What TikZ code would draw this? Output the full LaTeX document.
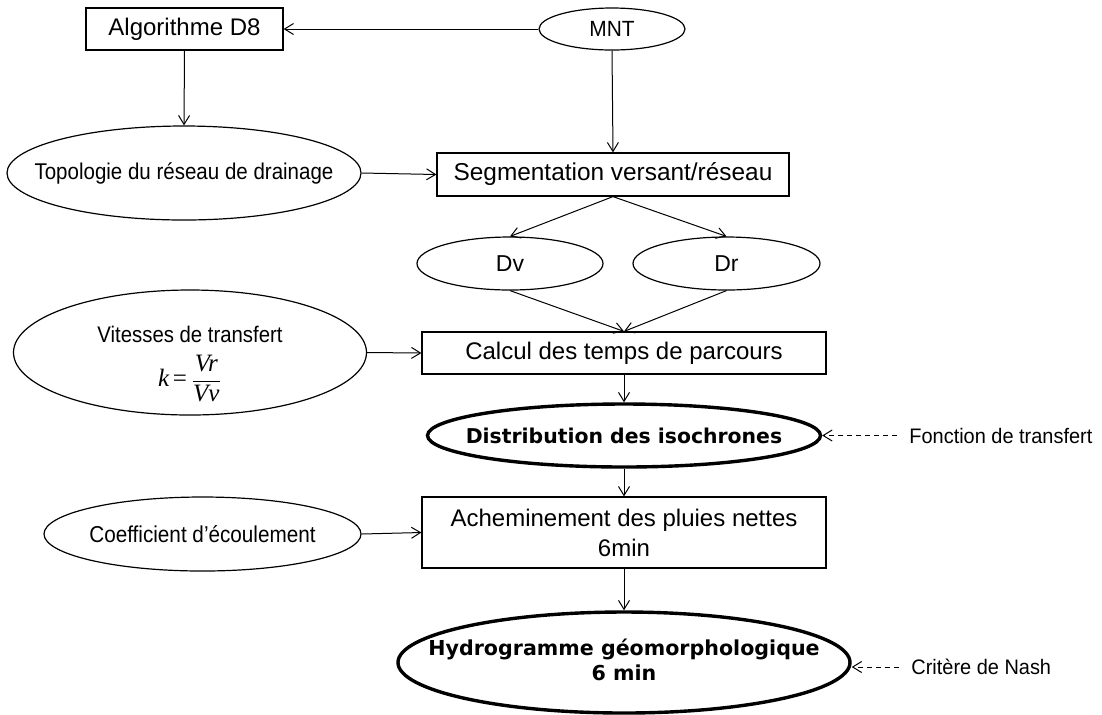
\documentclass[tikz,border=0pt]{standalone}
\usepackage{fontspec}
\setmainfont{Liberation Sans}
\newfontfamily\nar{Liberation Sans}[FakeStretch=0.9]
\newfontfamily\narb{Liberation Sans}[FakeStretch=0.95]
\newfontfamily\boldfam{DejaVu Sans}
\newfontfamily\tms{Liberation Serif}
\usetikzlibrary{arrows.meta,shapes.geometric}
\begin{document}
\begin{tikzpicture}[x=0.5pt,y=-0.5pt,
  box/.style={draw, line width=0.6pt, rectangle, inner sep=0pt},
  oval/.style={draw, line width=0.6pt, ellipse, inner sep=0pt},
  thickoval/.style={oval, line width=1.7pt},
  arr/.style={-{Straight Barb[length=4.5pt,width=5.5pt]}, line width=0.5pt},
  darr/.style={arr, dash pattern=on 2.5pt off 2pt},
  side/.style={font=\narb\fontsize{10.5}{12}\selectfont, anchor=west, inner xsep=6pt, inner ysep=0pt}
]
\useasboundingbox (0,0) rectangle (1102,714);

\node[box, minimum width=98.5pt, minimum height=21pt, font=\fontsize{12}{14}\selectfont] (algo) at (184.5,29) {Algorithme D8};
\node[oval, minimum width=73pt, minimum height=21pt, font=\narb\fontsize{11}{12}\selectfont] (mnt) at (612,29) {\makebox[0pt]{MNT}};
\node[oval, minimum width=177pt, minimum height=47pt, font=\nar\fontsize{11.4}{13}\selectfont] (topo) at (184,173) {\makebox[0pt]{Topologie du réseau de drainage}};
\node[box, minimum width=176pt, minimum height=21.5pt, font=\fontsize{12.2}{14}\selectfont] (seg) at (613,174.5) {Segmentation versant/réseau};
\node[oval, minimum width=93pt, minimum height=26.5pt, font=\fontsize{11.5}{13}\selectfont] (dv) at (510,263.5) {\makebox[0pt]{Dv}};
\node[oval, minimum width=93.5pt, minimum height=26.5pt, font=\fontsize{11.5}{13}\selectfont] (dr) at (726.5,263.5) {\makebox[0pt]{Dr}};
\node[oval, minimum width=176.5pt, minimum height=62.5pt, font=\nar\fontsize{11.3}{13}\selectfont] (vit) at (190,352.5)
  {\makebox[0pt]{\raisebox{-8pt}[0pt][0pt]{\begin{tabular}{@{}c@{}}Vitesses de transfert\\[2.5pt]
   {\tms\fontsize{12.5}{14}\selectfont\itshape k}\,{\tms\fontsize{12.5}{14}\selectfont =}\,$\displaystyle\frac{\hbox{\tms\fontsize{12.5}{14}\selectfont\itshape Vr}}{\hbox{\tms\fontsize{12.5}{14}\selectfont\itshape Vv}}$\end{tabular}}}};
\node[box, minimum width=202pt, minimum height=21pt, font=\fontsize{12}{14}\selectfont] (calc) at (624,353) {Calcul des temps de parcours};
\node[thickoval, minimum width=196.5pt, minimum height=31.5pt, font=\boldfam\bfseries\fontsize{10.2}{12}\selectfont] (dist) at (624,435.5) {\makebox[0pt]{Distribution des isochrones}};
\node[side] (fonc) at (897,435.5) {Fonction de transfert};
\node[oval, minimum width=158.5pt, minimum height=37pt, font=\nar\fontsize{11.5}{13}\selectfont] (coef) at (202.5,534) {\makebox[0pt]{Coefficient d’écoulement}};
\node[box, minimum width=202pt, minimum height=35.5pt, align=center, font=\fontsize{12}{15}\selectfont] (ach) at (624,532.5) {Acheminement des pluies nettes\\6min};
\node[thickoval, minimum width=226pt, minimum height=50.5pt, font=\boldfam\bfseries\fontsize{10.3}{12.5}\selectfont] (hydro) at (624,662.5)
  {\makebox[0pt]{\begin{tabular}{@{}c@{}}Hydrogramme géomorphologique\\6 min\end{tabular}}};
\node[side] (crit) at (899,667) {Critère de Nash};

\draw[arr] (mnt) -- (algo);
\draw[arr] (algo.south) -- (topo.north);
\draw[arr] (mnt.south) -- (seg.north);
\draw[arr] (topo.east) -- (seg.west);
\draw[arr] (seg.south) -- (dv.north);
\draw[arr] (seg.south) -- (dr.north);
\draw[arr] (dv.south) -- (calc.north);
\draw[arr] (dr.south) -- (calc.north);
\draw[arr] (vit.east) -- (calc.west);
\draw[arr] (calc.south) -- (dist.north);
\draw[arr] (dist.south) -- (ach.north);
\draw[arr] (coef.east) -- (ach.west);
\draw[arr] (ach.south) -- (hydro.north);
\draw[darr] (fonc.west) -- (dist.east);
\draw[darr] (crit.west) -- (crit.west -| hydro.east);
\end{tikzpicture}
\end{document}
